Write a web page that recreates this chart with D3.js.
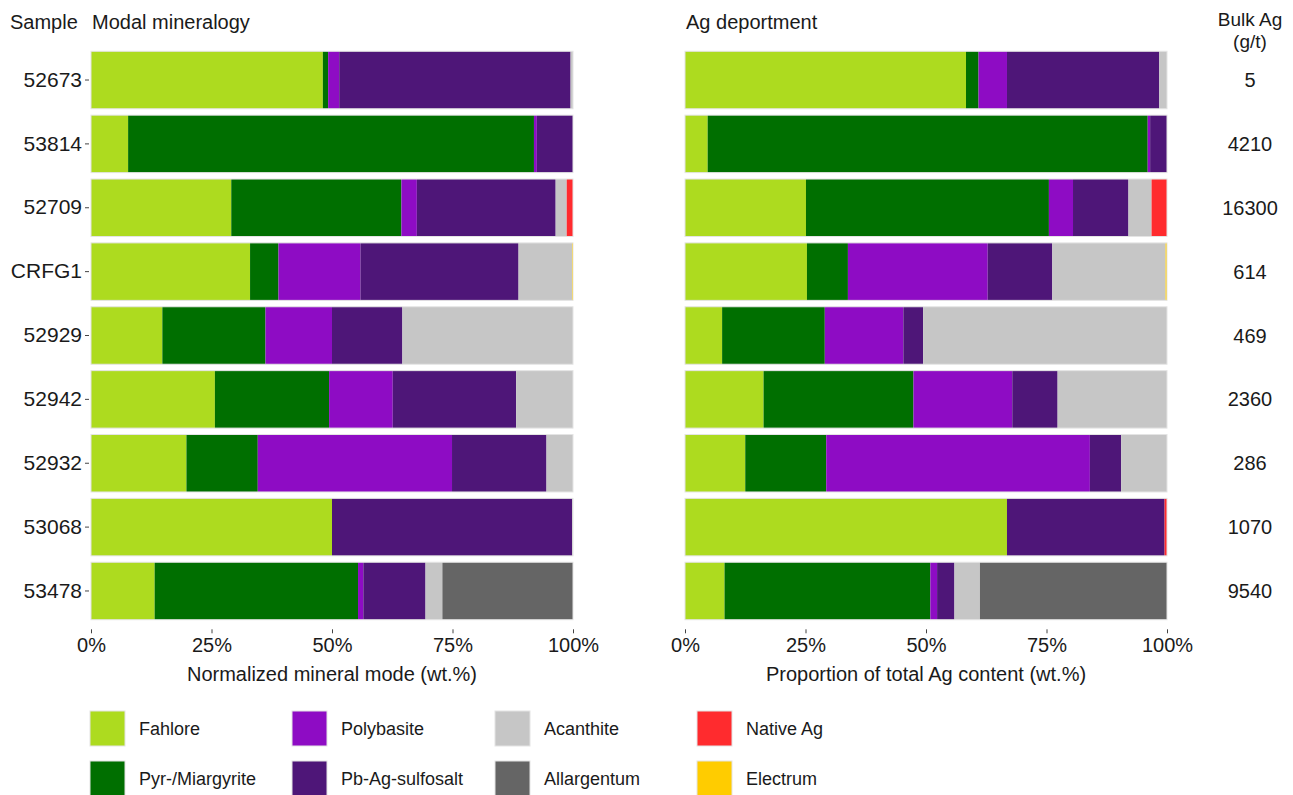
<!DOCTYPE html>
<html lang="en">
<head>
    <meta charset="UTF-8">
    <title>Modal mineralogy and Ag deportment</title>
    <script src="https://d3js.org/d3.v7.min.js"></script>
    <style>
        body { margin: 0; background: #fff; font-family: "Liberation Sans", Arial, sans-serif; }
        svg text { fill: #1a1a1a; }
    </style>
</head>
<body>
<div id="chart"></div>
<script>
    // Samples, top to bottom
    const samples = ["52673", "53814", "52709", "CRFG1", "52929", "52942", "52932", "53068", "53478"];
    const bulkAg = ["5", "4210", "16300", "614", "469", "2360", "286", "1070", "9540"];

    // Mineral classes (stack order) and their colours
    const minerals = ["Fahlore", "Pyr-/Miargyrite", "Polybasite", "Pb-Ag-sulfosalt",
                      "Acanthite", "Allargentum", "Native Ag", "Electrum"];
    const mineralColors = ["#addb1f", "#006f00", "#8e0cc4", "#4e1678",
                           "#c6c6c6", "#656565", "#ff2b2e", "#ffcc00"];

    // Normalized mineral mode (wt.%), one row per sample, columns in mineral order
    const modalMode = [
        [48.1, 1.1, 2.3, 48.0, 0.5, 0, 0, 0],
        [7.7, 84.2, 0.6, 7.5, 0, 0, 0, 0],
        [29.1, 35.3, 3.2, 28.8, 2.3, 0, 1.3, 0],
        [33.0, 5.9, 17.0, 32.8, 11.1, 0, 0, 0.2],
        [14.8, 21.4, 13.8, 14.6, 35.4, 0, 0, 0],
        [25.7, 23.7, 13.2, 25.6, 11.8, 0, 0, 0],
        [19.8, 14.8, 40.3, 19.6, 5.5, 0, 0, 0],
        [50.0, 0, 0, 49.8, 0.2, 0, 0, 0],
        [13.2, 42.2, 1.1, 12.9, 3.5, 27.1, 0, 0]
    ];

    // Proportion of total Ag content (wt.%)
    const agDeportment = [
        [58.3, 2.6, 5.9, 31.6, 1.6, 0, 0, 0],
        [4.7, 91.3, 0.5, 3.5, 0, 0, 0, 0],
        [25.1, 50.4, 5.0, 11.5, 4.8, 0, 3.2, 0],
        [25.3, 8.5, 29.0, 13.4, 23.5, 0, 0, 0.3],
        [7.7, 21.3, 16.3, 4.1, 50.6, 0, 0, 0],
        [16.3, 31.1, 20.5, 9.4, 22.7, 0, 0, 0],
        [12.5, 16.8, 54.7, 6.5, 9.5, 0, 0, 0],
        [66.8, 0, 0, 32.7, 0, 0, 0.5, 0],
        [8.2, 42.7, 1.4, 3.6, 5.3, 38.8, 0, 0]
    ];

    const xTicks = [0, 25, 50, 75, 100];

    const width = 1293, height = 795;
    const svg = d3.select("#chart").append("svg")
        .attr("width", width)
        .attr("height", height)
        .style("font-family", "'Liberation Sans', Arial, sans-serif");

    const y = d3.scaleBand()
        .domain(samples)
        .range([41.7, 629.3])
        .paddingInner(0.1)
        .paddingOuter(0.15);

    const color = d3.scaleOrdinal().domain(minerals).range(mineralColors);

    function drawPanel(values, x0, x1, title, axisTitle, showY) {
        const x = d3.scaleLinear().domain([0, 100]).range([x0, x1]);

        const rows = values.map((v, i) => {
            const total = d3.sum(v);
            const r = { sample: samples[i] };
            minerals.forEach((m, j) => r[m] = v[j] / total * 100);
            return r;
        });
        const series = d3.stack().keys(minerals)(rows);

        const g = svg.append("g");
        g.selectAll("g.layer")
            .data(series)
            .join("g")
            .attr("class", "layer")
            .attr("fill", d => color(d.key))
            .selectAll("rect")
            .data(d => d.filter(s => s[1] - s[0] > 0))
            .join("rect")
            .attr("x", d => x(d[0]))
            .attr("width", d => x(d[1]) - x(d[0]))
            .attr("y", d => y(d.data.sample))
            .attr("height", y.bandwidth());

        // light outline round each bar
        g.selectAll("rect.outline")
            .data(samples)
            .join("rect")
            .attr("class", "outline")
            .attr("x", x(0))
            .attr("width", x(100) - x(0))
            .attr("y", d => y(d))
            .attr("height", y.bandwidth())
            .attr("fill", "none")
            .attr("stroke", "#e4e4e4")
            .attr("stroke-width", 1);

        // x axis
        const xAxis = svg.append("g")
            .attr("transform", `translate(0,${y.range()[1]})`)
            .call(d3.axisBottom(x).tickValues(xTicks).tickFormat(d => d + "%").tickSize(4).tickPadding(5));
        xAxis.select(".domain").remove();
        xAxis.selectAll("line").attr("stroke", "#444");
        xAxis.selectAll("text").style("font-size", "20px").attr("fill", "#1a1a1a");

        svg.append("text")
            .attr("x", (x0 + x1) / 2)
            .attr("y", 681)
            .attr("text-anchor", "middle")
            .style("font-size", "20px")
            .text(axisTitle);

        svg.append("text")
            .attr("x", x0 + 1)
            .attr("y", 29)
            .style("font-size", "20px")
            .text(title);

        if (showY) {
            const yAxis = svg.append("g")
                .attr("transform", `translate(${x0 - 2},0)`)
                .call(d3.axisLeft(y).tickSize(4).tickPadding(3));
            yAxis.select(".domain").remove();
            yAxis.selectAll("line").attr("stroke", "#444");
            yAxis.selectAll("text").style("font-size", "21px").attr("fill", "#1a1a1a");
        }
    }

    drawPanel(modalMode, 91, 573, "Modal mineralogy", "Normalized mineral mode (wt.%)", true);
    drawPanel(agDeportment, 685, 1167, "Ag deportment", "Proportion of total Ag content (wt.%)", false);

    svg.append("text")
        .attr("x", 10).attr("y", 29)
        .style("font-size", "20px")
        .text("Sample");

    // Bulk Ag column
    const bulkX = 1250;
    svg.append("text")
        .attr("x", bulkX).attr("y", 26)
        .attr("text-anchor", "middle")
        .style("font-size", "19px")
        .text("Bulk Ag");
    svg.append("text")
        .attr("x", bulkX).attr("y", 48)
        .attr("text-anchor", "middle")
        .style("font-size", "19px")
        .text("(g/t)");
    svg.append("g")
        .selectAll("text")
        .data(samples)
        .join("text")
        .attr("x", bulkX)
        .attr("y", d => y(d) + y.bandwidth() / 2)
        .attr("dy", "0.35em")
        .attr("text-anchor", "middle")
        .style("font-size", "20px")
        .text((d, i) => bulkAg[i]);

    // Legend: 4 columns x 2 rows, filled column by column
    const legendX = [90, 292, 495, 697];
    const legendY = [711, 761];
    const legend = svg.append("g")
        .selectAll("g")
        .data(minerals)
        .join("g")
        .attr("transform", (d, i) => `translate(${legendX[Math.floor(i / 2)]},${legendY[i % 2]})`);
    legend.append("rect")
        .attr("width", 35)
        .attr("height", 35)
        .attr("fill", d => color(d))
        .attr("stroke", "#e4e4e4")
        .attr("stroke-width", 1);
    legend.append("text")
        .attr("x", 49)
        .attr("y", 17.5)
        .attr("dy", "0.35em")
        .style("font-size", "18px")
        .text(d => d);
</script>
</body>
</html>
